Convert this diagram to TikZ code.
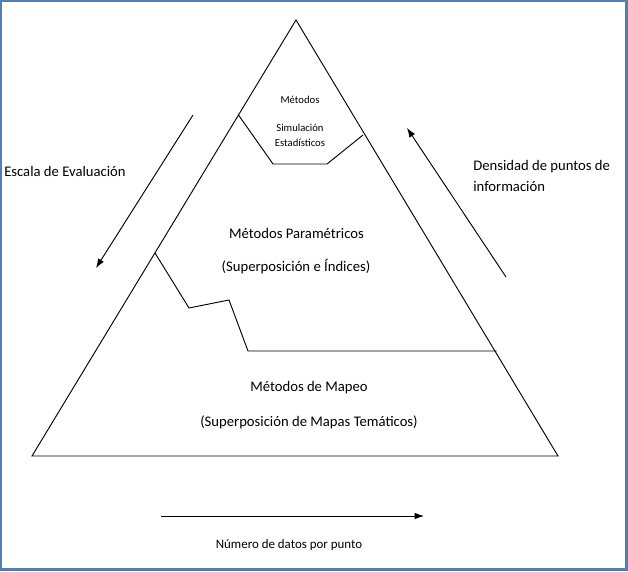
\documentclass[tikz,border=0pt]{standalone}
\usepackage{fontspec}
\setmainfont{Carlito}
\usetikzlibrary{arrows.meta}
\definecolor{frameblue}{RGB}{84,125,178}
\begin{document}
\begin{tikzpicture}[x=0.75pt,y=-0.75pt,
  edge/.style={draw=black,line width=0.7pt},
  arr/.style={draw=black,line width=0.7pt,-{Latex[length=7pt,width=5pt]}},
  lbl/.style={inner sep=0pt,font=\fontsize{11pt}{13pt}\selectfont},
  lblsm/.style={inner sep=0pt,font=\fontsize{9.7pt}{12pt}\selectfont},
  small/.style={inner sep=0pt,font=\fontsize{8pt}{10pt}\selectfont}]
\useasboundingbox (0,0) rectangle (628,571);
\fill[white] (0,0) rectangle (628,571);
\draw[frameblue,line width=1.6pt] (1,1) rectangle (626.5,569.5);
% triangle
\coordinate (apex) at (296,20);
\coordinate (bl) at (32,456);
\coordinate (br) at (558,456);
\draw[edge] (apex) -- (bl) -- (br) -- cycle;
% top region boundary
\coordinate (t1) at (238.5,115);
\coordinate (t2) at (273,164);
\coordinate (t3) at (327,164);
\coordinate (t4) at (363,135);
\draw[edge] (t1) -- (t2) -- (t3) -- (t4);
% middle region boundary
\coordinate (m1) at (155,253);
\coordinate (m2) at (189,308);
\coordinate (m3) at (229,300);
\coordinate (m4) at (248,351);
\coordinate (m5) at (496.5,351);
\draw[edge] (m1) -- (m2) -- (m3) -- (m4) -- (m5);
% texts
\node[small] (tm) at (300,100) {Métodos};
\node[small] (ts) at (300,128) {Simulación};
\node[small] (te) at (300,143) {Estadísticos};
\node[lbl] (pm) at (296.5,233) {Métodos Paramétricos};
\node[lbl] (ps) at (296,267) {(Superposición e Índices)};
\node[lbl] (mm) at (309,388) {Métodos de Mapeo};
\node[lbl] (ms) at (309,422) {(Superposición de Mapas Temáticos)};
\node[lbl,anchor=west] (esc) at (4,171) {Escala de Evaluación};
\node[lbl,anchor=west] (den1) at (473,167) {Densidad de puntos de};
\node[lbl,anchor=west] (den2) at (473,187) {información};
\node[lblsm] (num) at (289,545) {Número de datos por punto};
% arrows
\coordinate (a1s) at (193,115);
\coordinate (a1e) at (96,268);
\draw[arr] (a1s) -- (a1e);
\coordinate (a2s) at (506,277);
\coordinate (a2e) at (407,128);
\draw[arr] (a2s) -- (a2e);
\coordinate (a3s) at (161,516);
\coordinate (a3e) at (424,516);
\draw[arr] (a3s) -- (a3e);
\end{tikzpicture}
\end{document}
